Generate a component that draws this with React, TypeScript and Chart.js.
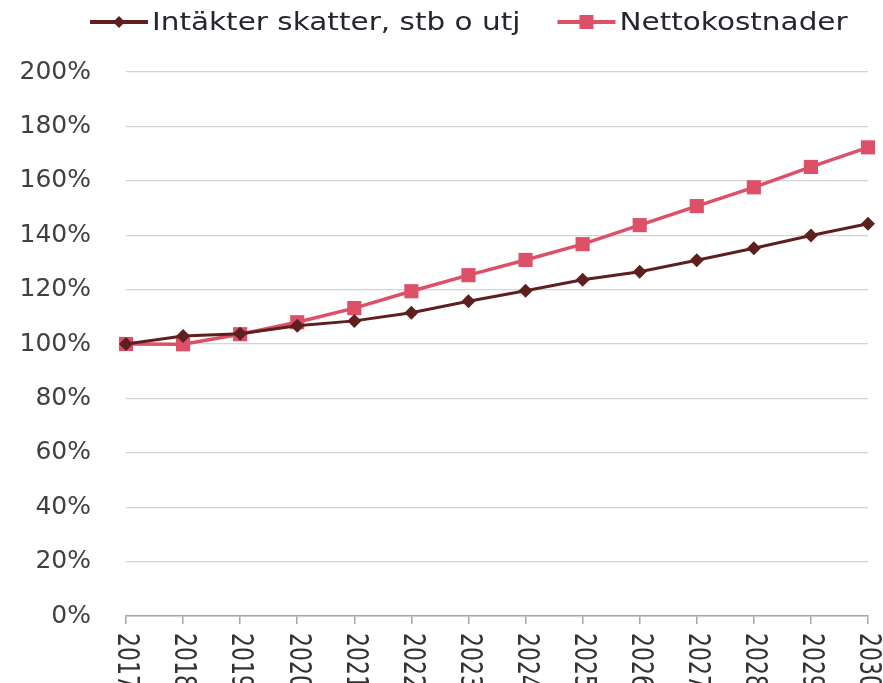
import React, { useEffect, useRef } from "react";
import { Chart, registerables } from "chart.js";

Chart.register(...registerables);

const years = ["2017","2018","2019","2020","2021","2022","2023","2024","2025","2026","2027","2028","2029","2030"];
const intakter = [100, 102.9, 103.8, 106.7, 108.5, 111.5, 115.7, 119.6, 123.6, 126.6, 130.8, 135.2, 139.9, 144.2];
const nettokostnader = [100, 99.9, 103.6, 108.0, 113.2, 119.4, 125.3, 130.9, 136.7, 143.7, 150.7, 157.6, 165.1, 172.3];
const seriesNames = ["Intäkter skatter, stb o utj", "Nettokostnader"];

const DARK = "#5e1f1f";
const PINK = "#dc5068";
const FONT = '"DejaVu Sans", sans-serif';

export default function App() {
  const ref = useRef<HTMLCanvasElement | null>(null);
  useEffect(() => {
    if (!ref.current) return;
    const legendPlugin = {
      id: "customLegend",
      afterDraw(chart: any) {
        const ctx = chart.ctx;
        ctx.save();
        ctx.font = `25px ${FONT}`;
        ctx.textBaseline = "middle";
        ctx.textAlign = "left";
        const stretch = 1.18;
        const y = 22;
        let x = 90;
        chart.data.datasets.forEach((ds: any, i: number) => {
          ctx.strokeStyle = ds.borderColor;
          ctx.lineWidth = 4;
          ctx.beginPath();
          ctx.moveTo(x, y);
          ctx.lineTo(x + 58, y);
          ctx.stroke();
          ctx.fillStyle = ds.borderColor;
          const cx = x + 29;
          if (i === 0) {
            ctx.beginPath();
            ctx.moveTo(cx, y - 6);
            ctx.lineTo(cx + 6, y);
            ctx.lineTo(cx, y + 6);
            ctx.lineTo(cx - 6, y);
            ctx.closePath();
            ctx.fill();
          } else {
            ctx.fillRect(cx - 7, y - 7, 14, 14);
          }
          ctx.fillStyle = "#262630";
          ctx.save();
          ctx.translate(x + 62, y + 1);
          ctx.scale(stretch, 1);
          ctx.fillText(ds.label, 0, 0);
          ctx.restore();
          x += 62 + ctx.measureText(ds.label).width * stretch + 37;
        });
        ctx.restore();
      },
    };
    const xLabelPlugin = {
      id: "xLabels",
      afterDraw(chart: any) {
        const ctx = chart.ctx;
        const sx = chart.scales.x;
        ctx.save();
        ctx.font = `22px ${FONT}`;
        ctx.fillStyle = "#333";
        ctx.textAlign = "left";
        ctx.textBaseline = "middle";
        const labels = chart.data.labels as string[];
        labels.forEach((lab, i) => {
          const px = sx.getPixelForTick(i);
          ctx.save();
          ctx.translate(px, chart.chartArea.bottom + 17);
          ctx.rotate(Math.PI / 2);
          ctx.scale(1, 1.35);
          ctx.fillText(lab, 0, 0);
          ctx.restore();
        });
        ctx.restore();
      },
    };
    const chart = new Chart(ref.current, {
      type: "line",
      data: {
        labels: years,
        datasets: [
          {
            label: seriesNames[0],
            data: intakter,
            borderColor: DARK,
            backgroundColor: DARK,
            borderWidth: 3,
            pointStyle: "rectRot",
            pointRadius: 7,
            pointBorderWidth: 0,
            pointBackgroundColor: DARK,
            tension: 0,
          },
          {
            label: seriesNames[1],
            data: nettokostnader,
            borderColor: PINK,
            backgroundColor: PINK,
            borderWidth: 3.5,
            pointStyle: "rect",
            pointRadius: 10,
            pointBorderWidth: 0,
            pointBackgroundColor: PINK,
            tension: 0,
          },
        ],
      },
      options: {
        animation: false,
        responsive: true,
        maintainAspectRatio: false,
        layout: { padding: { top: 72, right: 15, left: 0, bottom: 0 } },
        plugins: {
          legend: { display: false },
          tooltip: { enabled: false },
        },
        scales: {
          x: {
            type: "category",
            offset: false,
            grid: {
              display: true,
              drawOnChartArea: false,
              drawTicks: true,
              tickLength: 8,
              color: "#a6a6a6",
              lineWidth: 1.5,
            },
            border: { display: true, color: "#a6a6a6", width: 1.5 },
            ticks: { display: false },
            afterFit: (s: any) => {
              s.height = 67;
            },
          },
          y: {
            min: 0,
            max: 200,
            ticks: {
              stepSize: 20,
              padding: 35,
              color: "#404040",
              font: { family: FONT, size: 25 },
              callback: (v: any) => `${v}%`,
            },
            grid: { color: "#d4d4d4", lineWidth: 1.2, drawTicks: false },
            border: { display: false },
            afterFit: (s: any) => {
              s.width = 126;
            },
          },
        },
      },
      plugins: [legendPlugin, xLabelPlugin],
    });
    return () => chart.destroy();
  }, []);
  return (
    <div style={{ position: "absolute", left: 0, top: 0, width: 883, height: 683, background: "#fff" }}>
      <canvas ref={ref} />
    </div>
  );
}
